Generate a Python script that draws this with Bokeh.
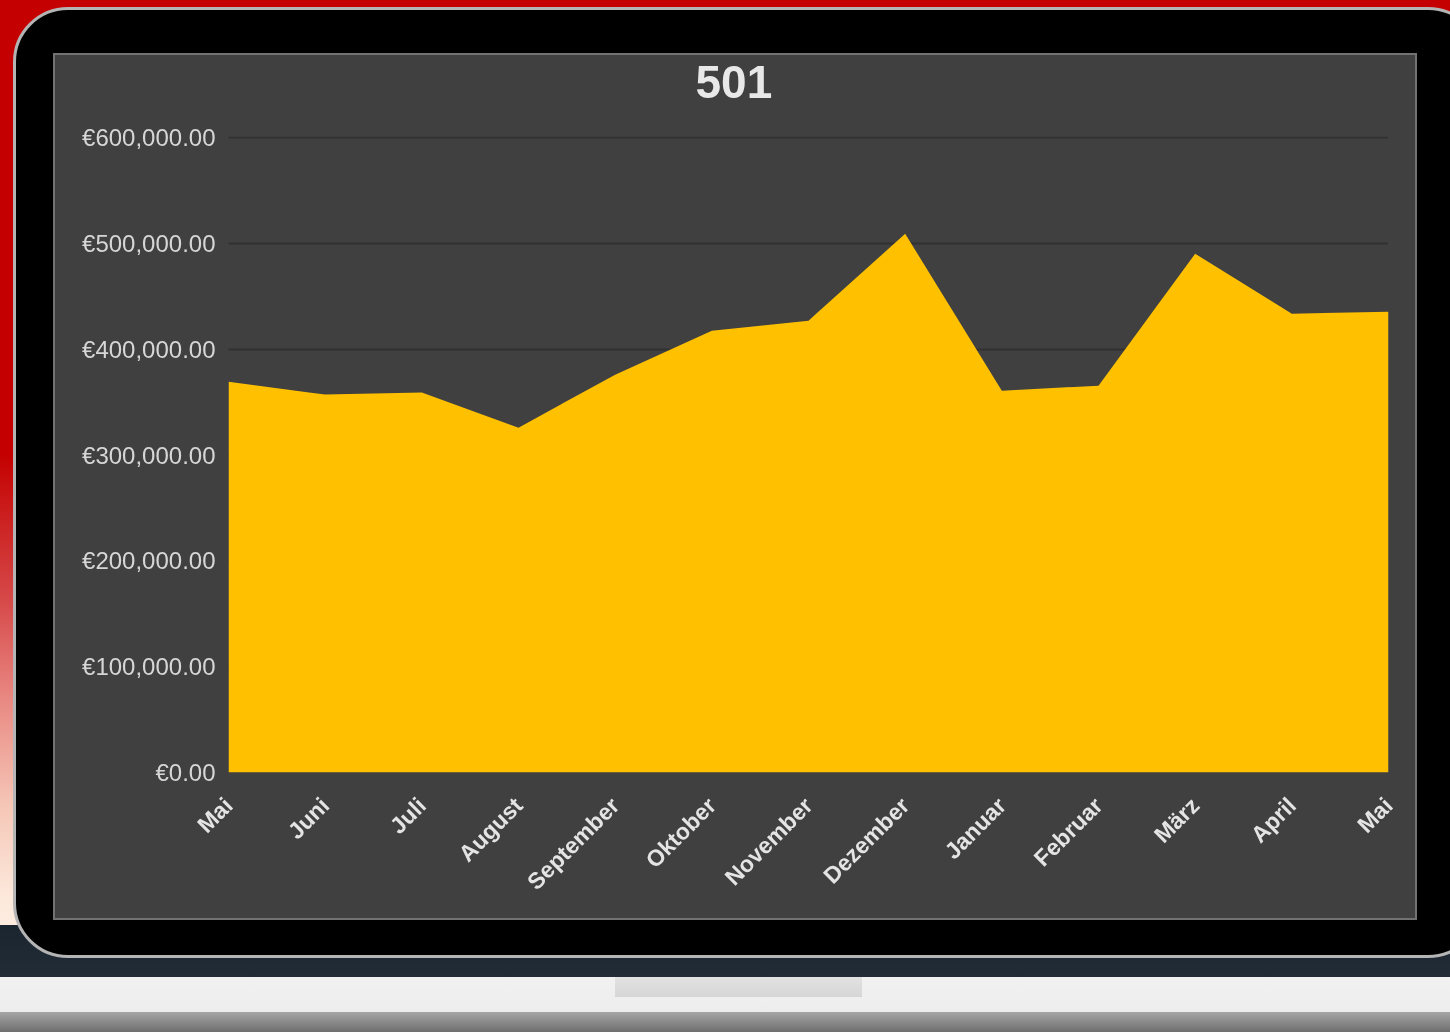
import math
from bokeh.plotting import figure
from bokeh.models import Range1d, FixedTicker, LinearAxis, GlobalInlineStyleSheet
from bokeh.embed import file_html
from bokeh.resources import INLINE

# ---- data ----
months = ["Mai", "Juni", "Juli", "August", "September", "Oktober", "November",
          "Dezember", "Januar", "Februar", "März", "April", "Mai"]
revenue = [369400, 357200, 359100, 326000, 376100, 417600, 427100,
           509300, 360900, 365700, 490400, 433700, 435600]
y_ticks = [0, 100000, 200000, 300000, 400000, 500000, 600000]
y_tick_labels = ["€0.00", "€100,000.00", "€200,000.00", "€300,000.00",
                 "€400,000.00", "€500,000.00", "€600,000.00"]
chart_title = "501"

FONT = "Liberation Sans"
x_idx = list(range(len(months)))

W, H = 1360, 863
ML, MR, MT, MB = 173, 27, 81, 146

p = figure(width=W, height=H, output_backend="svg", toolbar_location=None,
           x_range=Range1d(0, len(months) - 1), y_range=Range1d(0, 601200),
           min_border_left=ML, min_border_right=MR,
           min_border_top=MT, min_border_bottom=MB,
           background_fill_color="#404040", border_fill_color="#404040")
p.outline_line_color = None

# laptop-screen surroundings (page decoration)
css = """
body {
  background: linear-gradient(to bottom, #c40000 0%, #c40000 44%, #d64848 58%,
              #e98a84 68%, #f5c6b6 78%, #fce9dc 87%, #fdf4ea 100%);
}
body::after {
  content: ""; position: fixed; left: 0; top: 925px; width: 1450px; height: 107px;
  background:
    linear-gradient(to bottom, #e2e2e2, #d6d6d6) 615px 52px / 247px 20px no-repeat,
    linear-gradient(to bottom, #1b2530 0px, #222c36 52px, #f1f1f1 52px, #ededed 87px,
                    #a6a6a6 87px, #6e6e6e 107px);
  z-index: 0;
}
body::before {
  content: ""; position: fixed; left: 13px; top: 7px; width: 1470px; height: 951px;
  box-sizing: border-box; background: #000000; border: 3px solid #b4b4b4;
  border-radius: 55px; z-index: 1;
}
"""
p.stylesheets = [GlobalInlineStyleSheet(css=css)]
p.styles = {"position": "relative", "left": "55px", "top": "55px", "z-index": "2",
            "background-color": "#404040", "box-shadow": "0 0 0 2px #727272"}

# area
p.varea(x=x_idx, y1=0, y2=revenue, fill_color="#FFC000", fill_alpha=1.0)

# grid
p.xgrid.visible = False
p.ygrid.ticker = FixedTicker(ticks=y_ticks)
p.ygrid.grid_line_color = "#232323"
p.ygrid.grid_line_width = 2
p.ygrid.grid_line_dash = "1 1"

# y axis
p.yaxis.ticker = FixedTicker(ticks=y_ticks)
p.yaxis.major_label_overrides = {t: s for t, s in zip(y_ticks, y_tick_labels)}
p.yaxis.axis_line_color = None
p.yaxis.major_tick_line_color = None
p.yaxis.minor_tick_line_color = None
p.yaxis.major_label_text_font = FONT
p.yaxis.major_label_text_font_size = "24px"
p.yaxis.major_label_text_color = "#d6d6d6"
p.yaxis.major_label_standoff = 7

# x axis
p.xaxis.ticker = FixedTicker(ticks=x_idx)
p.xaxis.major_label_overrides = {i: m for i, m in zip(x_idx, months)}
p.xaxis.axis_line_color = None
p.xaxis.major_tick_line_color = None
p.xaxis.minor_tick_line_color = None
p.xaxis.major_label_orientation = math.pi / 4
p.xaxis.major_label_text_font = FONT
p.xaxis.major_label_text_font_size = "23px"
p.xaxis.major_label_text_font_style = "bold"
p.xaxis.major_label_text_color = "#e4e4e4"
p.xaxis.major_label_standoff = 23

# invisible top axis: only keeps a gap between the title and the plot area
mid = (len(months) - 1) / 2
gap_axis = LinearAxis(ticker=FixedTicker(ticks=[mid]), major_label_overrides={mid: ""},
                      axis_line_color=None, major_tick_line_color=None,
                      minor_tick_line_color=None, major_tick_in=0, major_tick_out=36,
                      minor_tick_in=0, minor_tick_out=0, major_label_standoff=0)
p.add_layout(gap_axis, "above")

# title
p.title.text = chart_title
p.title.align = "left"
p.title.offset = 467
p.title.standoff = 6
p.title.text_font = FONT
p.title.text_font_size = "46px"
p.title.text_font_style = "bold"
p.title.text_color = "#e8e8e8"

open("out.html", "w").write(file_html(p, INLINE))
